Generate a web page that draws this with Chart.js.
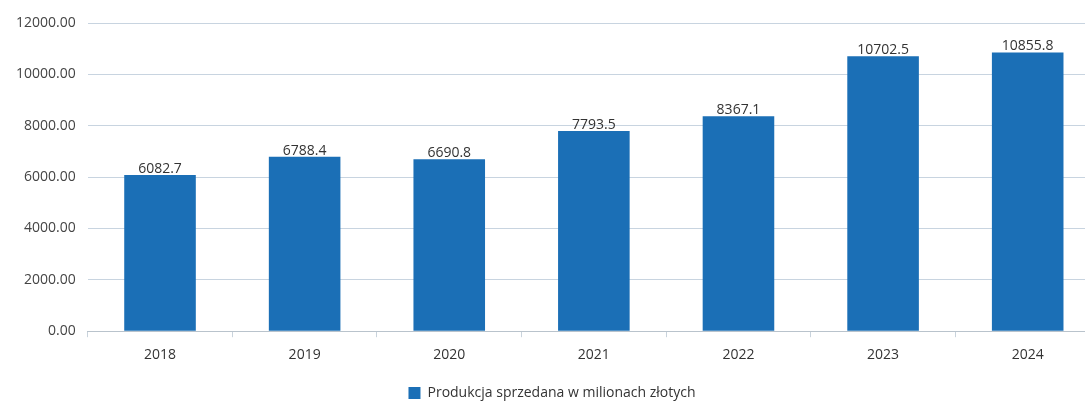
<!DOCTYPE html>
<html>
<head>
<meta charset="utf-8">
<script src="https://cdn.jsdelivr.net/npm/chart.js@4"></script>
<style>
  html,body{margin:0;padding:0;background:#fff;overflow:hidden;}
  #wrap{width:1100px;height:410px;position:relative;}
</style>
</head>
<body>
<div id="wrap"><canvas id="c"></canvas></div>
<script>
// dane z wykresu
const years = ['2018','2019','2020','2021','2022','2023','2024'];
const values = [6082.7, 6788.4, 6690.8, 7793.5, 8367.1, 10702.5, 10855.8];
const seriesName = 'Produkcja sprzedana w milionach złotych';
const yTicks = [0, 2000, 4000, 6000, 8000, 10000, 12000];

const FONT = '"Open Sans", "Noto Sans", sans-serif';
const BLUE = '#1b6fb6';

// etykiety nad słupkami
const valueLabels = {
  id:'valueLabels',
  afterDatasetsDraw(ch){
    const ctx = ch.ctx;
    const meta = ch.getDatasetMeta(0);
    ctx.save();
    ctx.font = '14px ' + FONT;
    ctx.fillStyle = '#333';
    ctx.textAlign = 'center';
    ctx.textBaseline = 'bottom';
    meta.data.forEach((bar,i)=>{
      ctx.fillText(values[i].toFixed(1), bar.x, bar.y + 1);
    });
    ctx.restore();
  }
};

new Chart(document.getElementById('c'), {
  type:'bar',
  data:{labels:years, datasets:[{
    label:seriesName, data:values, backgroundColor:BLUE, borderWidth:0,
    categoryPercentage:1, barPercentage:0.495
  }]},
  options:{
    responsive:true, maintainAspectRatio:false, animation:false,
    layout:{padding:{left:4, top:23, right:0, bottom:0}},
    plugins:{
      legend:{position:'bottom', labels:{boxWidth:12, boxHeight:12, padding:14, color:'#333', font:{family:FONT, size:14}}},
      tooltip:{enabled:false}
    },
    scales:{
      x:{
        offset:true,
        grid:{display:true, drawOnChartArea:false, offset:true, tickLength:6, color:'#c9d3dc'},
        border:{color:'#b9c3cc'},
        ticks:{color:'#333', font:{family:FONT, size:14}, padding:9}
      },
      y:{
        min:0, max:12000,
        afterBuildTicks(ax){ ax.ticks = yTicks.map(v=>({value:v})); },
        grid:{color:'#c8d4e0', drawTicks:false},
        border:{display:false},
        ticks:{color:'#444', font:{family:FONT, size:14}, padding:12, callback:v=>Number(v).toFixed(2)}
      }
    }
  },
  plugins:[valueLabels]
});
</script>
</body>
</html>
